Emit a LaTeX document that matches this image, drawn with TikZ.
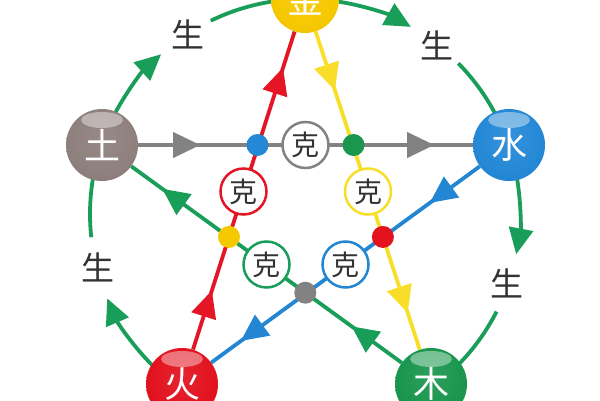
\documentclass[tikz,border=0pt]{standalone}
\usepackage{fontspec}
\newfontfamily\cjk{Noto Sans CJK SC}
\usetikzlibrary{arrows.meta,calc,decorations.markings}
\definecolor{cGreen}{RGB}{24,158,88}
\definecolor{cRed}{RGB}{228,22,38}
\definecolor{cYellow}{RGB}{248,222,40}
\definecolor{cBlue}{RGB}{34,134,210}
\definecolor{cGray}{RGB}{130,130,130}
\definecolor{bJin}{RGB}{246,200,0}
\definecolor{bShui}{RGB}{36,136,214}
\definecolor{bMu}{RGB}{26,150,78}
\definecolor{bHuo}{RGB}{226,18,30}
\definecolor{bTu}{RGB}{142,128,124}
\colorlet{cA}{red}
\pgfdeclareradialshading[cA]{myball}{\pgfpoint{0bp}{6bp}}{color(0bp)=(cA!92!white); color(24bp)=(cA); color(44bp)=(cA!88!black); color(50bp)=(cA!75!black)}
\pgfdeclarelayer{bg}\pgfsetlayers{bg,main}
\tikzset{
  ball/.style={circle, minimum size=72pt, inner sep=0pt,
    /utils/exec={\colorlet{cA}{#1}}, shading=myball,
    font=\cjk\fontsize{36}{36}\selectfont, text=white,
    path picture={\fill[white,opacity=0.4] ([yshift=-11pt]path picture bounding box.north) ellipse (21pt and 8pt);}},
  kline/.style={line width=3.8pt, draw=#1, postaction={decorate},
    decoration={markings,
      mark=at position 62pt with {\arrow[#1]{Triangle[length=27pt,width=25pt]}},
      mark=at position 296pt with {\arrow[#1]{Triangle[length=27pt,width=25pt]}}}},
  garc/.style={line width=3.8pt, draw=cGreen},
  garrow/.style={garc, -{Triangle[length=26pt,width=24pt]}},
  sheng/.style={font=\cjk\fontsize{33}{33}\selectfont, text=black!80, inner sep=0pt},
  dot/.style={circle, fill=#1, minimum size=22pt, inner sep=0pt},
  ke/.style={circle, draw=#1, line width=2.5pt, fill=white, minimum size=46pt, inner sep=0pt,
    font=\cjk\fontsize{28}{28}\selectfont, text=black!80}
}
\begin{document}
\begin{tikzpicture}[x=1pt,y=-1pt]
\useasboundingbox (0,0) rectangle (600,400);
\clip (0,0) rectangle (600,400);
% five elements
\node[ball=bJin, minimum size=68pt]  (jin)  at (305,-1)   {金};
\node[ball=bShui] (shui) at (509,145) {水};
\node[ball=bMu]   (mu)   at (431,384) {木};
\node[ball=bHuo]  (huo)  at (182,384) {火};
\node[ball=bTu]   (tu)   at (102,145) {土};
\coordinate (O) at (305,214);
\def\R{215}
\begin{pgfonlayer}{bg}
  \fill[white] (0,0) rectangle (600,400);
  % generating cycle (outer arcs)
  \draw[garrow] ($(O)+(208:\R)$) arc[start angle=208, end angle=228, radius=\R];
  \draw[garc]   ($(O)+(244:\R)$) arc[start angle=244, end angle=261, radius=\R];
  \draw[garrow] ($(O)+(279:\R)$) arc[start angle=279, end angle=299.5, radius=\R];
  \draw[garc]   ($(O)+(315.5:\R)$) arc[start angle=315.5, end angle=332, radius=\R];
  \draw[garrow] ($(O)+(350.6:\R)$) arc[start angle=350.6, end angle=370.8, radius=\R];
  \draw[garc]   ($(O)+(387:\R)$) arc[start angle=387, end angle=404.2, radius=\R];
  \draw[garrow] ($(O)+(135.2:\R)$) arc[start angle=135.2, end angle=156.9, radius=\R];
  \draw[garc]   ($(O)+(173.8:\R)$) arc[start angle=173.8, end angle=189.5, radius=\R];
  % controlling cycle (star)
  \draw[kline=cGray]   (tu)   -- (shui);
  \draw[kline=cRed]    (huo)  -- (jin);
  \draw[kline=cYellow] (jin)  -- (mu);
  \draw[kline=cGreen]  (mu)   -- (tu);
  \draw[kline=cBlue]   (shui) -- (huo);
\end{pgfonlayer}
% labels
\node[sheng] (s1) at ($(O)+(237:214)$) {生};
\node[sheng] (s2) at ($(O)+(308:214)$) {生};
\node[sheng] (s3) at ($(O)+(19:214)$) {生};
\node[sheng] (s4) at ($(O)+(165.6:214)$) {生};
% intersections
\node[dot=bShui] (x1) at ($(tu)!0.382!(shui)$) {};
\node[dot=bMu]   (x2) at ($(tu)!0.618!(shui)$) {};
\node[dot=bJin]  (x3) at ($(huo)!0.382!(jin)$) {};
\node[dot=bHuo]  (x4) at ($(jin)!0.618!(mu)$) {};
\node[dot=cGray] (x5) at ($(mu)!0.382!(tu)$) {};
% ke circles
\node[ke=cGray]   (k1) at ($(tu)!0.5!(shui)$) {克};
\node[ke=cRed]    (k2) at ($(huo)!0.5!(jin)$) {克};
\node[ke=cYellow] (k3) at ($(jin)!0.5!(mu)$) {克};
\node[ke=cGreen]  (k4) at ($(mu)!0.5!(tu)$) {克};
\node[ke=cBlue]   (k5) at ($(shui)!0.5!(huo)$) {克};
\end{tikzpicture}
\end{document}
